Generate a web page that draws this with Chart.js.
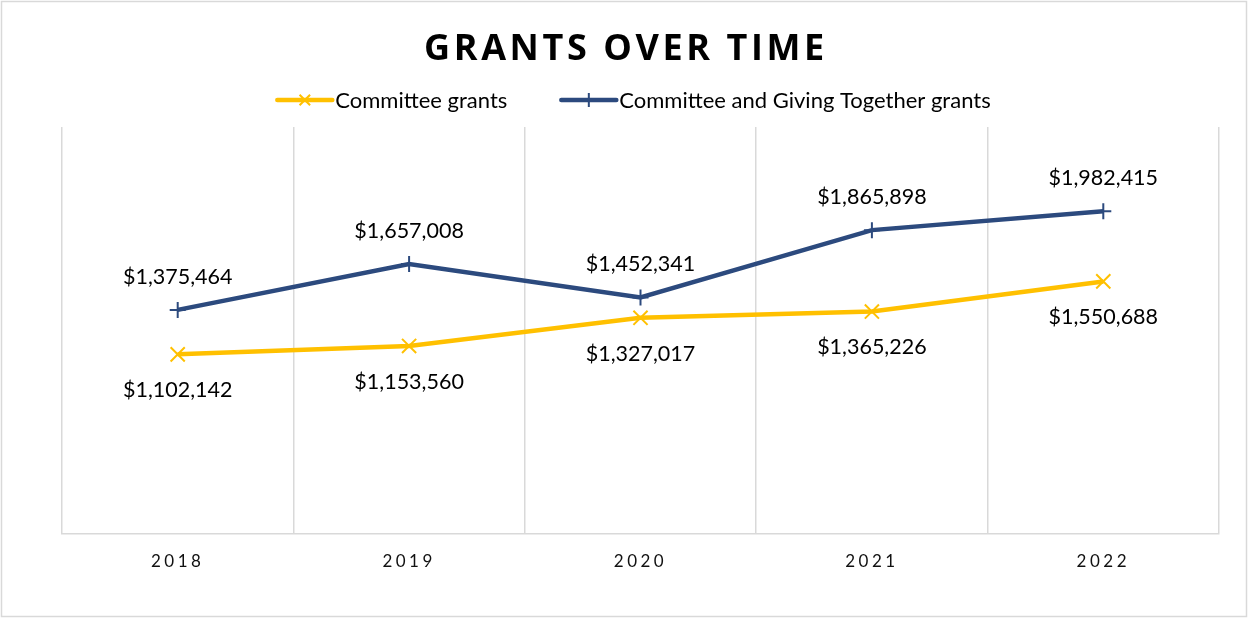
<!DOCTYPE html>
<html>
<head>
<meta charset="utf-8">
<script src="https://cdn.jsdelivr.net/npm/chart.js@4"></script>
<style>
  html, body { margin: 0; padding: 0; background: #fff; }
  canvas { display: block; }
</style>
</head>
<body>
<canvas id="grantsChart" width="1248" height="618"></canvas>
<script>
const years = ['2018', '2019', '2020', '2021', '2022'];
const committeeGrants = [1102142, 1153560, 1327017, 1365226, 1550688];
const togetherGrants = [1375464, 1657008, 1452341, 1865898, 1982415];
const seriesNames = ['Committee grants', 'Committee and Giving Together grants'];
const chartTitle = 'GRANTS OVER TIME';

const yellow = '#FFC000';
const navy = '#2C4A7E';
const labelFont = '21.5px Lato';
const legendFont = '22px Lato';

const money = v => '$' + v.toLocaleString('en-US');

// title, legend, frame and point labels drawn by hand
const decorations = {
    id: 'decorations',
    beforeDraw(chart) {
        chart.ctx.letterSpacing = '3.5px';
    },
    afterDatasetsDraw(chart) {
        const ctx = chart.ctx;
        ctx.save();
        ctx.letterSpacing = '0px';
        ctx.font = labelFont;
        ctx.fillStyle = '#000';
        ctx.textAlign = 'center';
        ctx.textBaseline = 'middle';
        chart.data.datasets.forEach((ds, i) => {
            const meta = chart.getDatasetMeta(i);
            meta.data.forEach((pt, j) => {
                const dy = ds.labelAbove ? -33 : 36;
                ctx.fillText(money(ds.data[j]), pt.x, pt.y + dy);
            });
        });
        ctx.restore();
    },
    afterDraw(chart) {
        const ctx = chart.ctx;
        ctx.save();
        ctx.strokeStyle = '#d9d9d9';
        ctx.lineWidth = 1.5;
        ctx.strokeRect(1.5, 1.5, chart.width - 3, chart.height - 3);

        // title
        ctx.letterSpacing = '3.6px';
        ctx.font = 'bold 36px "Open Sans"';
        ctx.fillStyle = '#000';
        ctx.textAlign = 'center';
        ctx.textBaseline = 'middle';
        ctx.fillText(chartTitle, 626, 50);

        // legend
        ctx.letterSpacing = '0px';
        ctx.font = legendFont;
        ctx.textAlign = 'left';
        const lineLen = 55, gapText = 3, gapItem = 54;
        const widths = seriesNames.map(n => ctx.measureText(n).width);
        const total = widths.reduce((a, w) => a + lineLen + gapText + w, 0) + gapItem;
        let x = 634 - total / 2;
        const y = 100;
        chart.data.datasets.forEach((ds, i) => {
            ctx.strokeStyle = ds.borderColor;
            ctx.lineWidth = 4.5;
            ctx.lineCap = 'round';
            ctx.beginPath();
            ctx.moveTo(x, y);
            ctx.lineTo(x + lineLen, y);
            ctx.stroke();
            ctx.lineWidth = 2;
            ctx.lineCap = 'butt';
            const cx = x + lineLen / 2, r = 7;
            ctx.beginPath();
            if (ds.pointStyle === 'crossRot') {
                const d = r * 0.75;
                ctx.moveTo(cx - d, y - d); ctx.lineTo(cx + d, y + d);
                ctx.moveTo(cx + d, y - d); ctx.lineTo(cx - d, y + d);
            } else {
                ctx.moveTo(cx, y - r); ctx.lineTo(cx, y + r);
                ctx.moveTo(cx - r, y); ctx.lineTo(cx + r, y);
            }
            ctx.stroke();
            ctx.fillStyle = '#000';
            ctx.fillText(seriesNames[i], x + lineLen + gapText, y + 1);
            x += lineLen + gapText + widths[i] + gapItem;
        });
        ctx.restore();
    }
};

const ctx = document.getElementById('grantsChart');
const myChart = new Chart(ctx, {
    type: 'line',
    data: {
        labels: years,
        datasets: [{
            label: seriesNames[0],
            data: committeeGrants,
            borderColor: yellow,
            backgroundColor: yellow,
            borderWidth: 4.5,
            pointStyle: 'crossRot',
            pointRadius: 10,
            pointBorderWidth: 2,
            labelAbove: false,
        }, {
            label: seriesNames[1],
            data: togetherGrants,
            borderColor: navy,
            backgroundColor: navy,
            borderWidth: 4.5,
            pointStyle: 'cross',
            pointRadius: 8,
            pointBorderWidth: 2,
            labelAbove: true,
        }]
    },
    options: {
        responsive: false,
        animation: false,
        devicePixelRatio: 1,
        layout: {
            padding: { left: 62, right: 29, top: 127, bottom: 28 }
        },
        plugins: {
            legend: { display: false },
            title: { display: false },
            tooltip: { enabled: false },
        },
        scales: {
            x: {
                offset: true,
                grid: {
                    offset: true,
                    color: '#d9d9d9',
                    lineWidth: 1.5,
                    drawTicks: false,
                },
                border: { color: '#d9d9d9', width: 1.5 },
                ticks: {
                    color: '#111',
                    font: { family: 'Lato', size: 17 },
                    padding: 18,
                },
            },
            y: {
                display: false,
                min: 0,
                max: 2500000,
            }
        }
    },
    plugins: [decorations]
});
</script>
</body>
</html>
